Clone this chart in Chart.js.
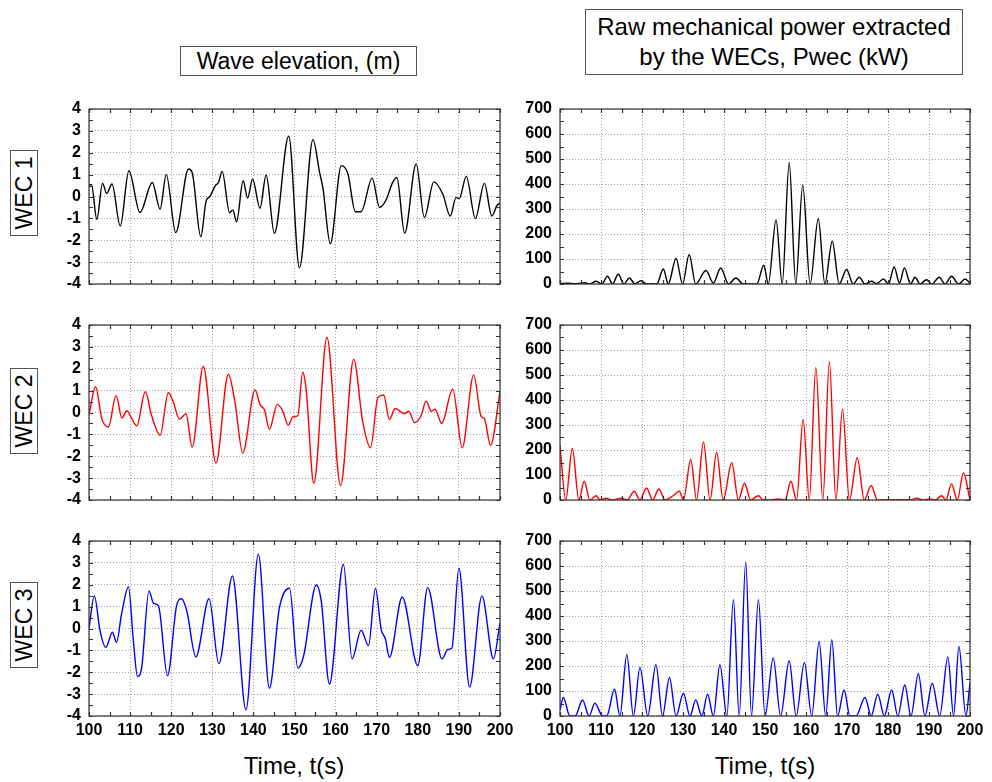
<!DOCTYPE html>
<html>
<head>
<meta charset="utf-8">
<script src="https://cdn.jsdelivr.net/npm/chart.js@4.4.1/dist/chart.umd.min.js"></script>
<style>
  body { margin: 0; background: #fff; width: 992px; height: 782px; position: relative; overflow: hidden;
         font-family: "Liberation Sans", Arial, sans-serif; }
  canvas { position: absolute; }
  .box { position: absolute; border: 1px solid #555; background: #fff; color: #000; text-align: center;
         box-sizing: border-box; }
  .label { position: absolute; color: #000; font-size: 24px; width: 200px; text-align: center; }
  .side { position: absolute; width: 86px; height: 28px; line-height: 27px; font-size: 23px;
          transform: rotate(-90deg); transform-origin: center center; }
</style>
</head>
<body>
<div class="box" style="left:180px;top:46px;width:237px;height:30px;line-height:28px;font-size:23px;">Wave elevation, (m)</div>
<div class="box" style="left:585px;top:9px;width:378px;height:66px;font-size:24px;line-height:30px;padding-top:2px;">Raw mechanical power extracted<br>by the WECs, Pwec (kW)</div>

<div class="box side" style="left:-19px;top:179px;">WEC 1</div>
<div class="box side" style="left:-19px;top:397px;">WEC 2</div>
<div class="box side" style="left:-19px;top:611px;">WEC 3</div>

<div class="label" style="left:194px;top:752px;">Time, t(s)</div>
<div class="label" style="left:665px;top:752px;">Time, t(s)</div>

<canvas id="wave1" width="480" height="205" style="left:40px;top:95px;"></canvas>
<canvas id="wave2" width="480" height="205" style="left:40px;top:311px;"></canvas>
<canvas id="wave3" width="480" height="233" style="left:40px;top:527px;"></canvas>
<canvas id="power1" width="480" height="205" style="left:510px;top:95px;"></canvas>
<canvas id="power2" width="480" height="205" style="left:510px;top:311px;"></canvas>
<canvas id="power3" width="480" height="233" style="left:510px;top:527px;"></canvas>

<script>
// Wave elevation (m)
const wave1Time = [100, 100.6, 101.9, 103.3, 104.3, 105.6, 107.6, 109.7, 112.4, 115.4, 117.3, 118.8, 121.1, 124.2, 125.1, 127.2, 128.5, 129.4, 130.7, 131.5, 132.4, 134.2, 135.0, 135.9, 137.5, 138.6, 139.8, 141.6, 143.1, 145.1, 148.6, 151.2, 154.5, 156.1, 156.9, 158.7, 161.4, 163.0, 164.8, 166.2, 168.9, 170.7, 172.3, 173.8, 174.9, 176.8, 179.6, 181.6, 183.9, 186.1, 187.9, 189.3, 190.1, 191.8, 194.0, 196.2, 198.0, 199.3, 200];
const wave1 = [0.52, 0.55, -1.04, 0.6, 0.14, 0.57, -1.35, 1.18, -0.73, 0.64, -0.58, 1.0, -1.65, 1.26, 1.1, -1.84, -0.2, 0, 0.49, 0.64, 1.15, -0.74, -0.61, -1.16, 0.72, -0.08, 0.8, -0.54, 0.98, -1.68, 2.76, -3.26, 2.6, 1.1, 0.41, -2.16, 1.41, 1.03, -0.7, -0.7, 0.84, -0.5, -0.15, 0.61, 0.87, -1.68, 1.49, -0.96, 0.67, 0.1, -0.89, -0.05, -0.09, 0.92, -1.01, 0.6, -0.89, -0.4, -0.3];

const wave2Time = [100, 101.6, 103.1, 104.7, 106.6, 108.0, 109.2, 110.4, 111.6, 113.7, 115.2, 117.3, 119.3, 120.5, 122.0, 123.6, 125.1, 127.8, 130.9, 133.9, 135.5, 137.4, 140.4, 141.6, 142.7, 143.9, 145.8, 147.1, 148.5, 149.6, 150.8, 152.0, 152.8, 154.7, 157.9, 161.2, 164.4, 166.6, 168.5, 170.3, 171.7, 173.1, 174.5, 176.8, 177.8, 179.2, 180.8, 182.0, 183.3, 184.2, 185.8, 188.5, 190.8, 193.6, 195.4, 196.2, 197.7, 200];
const wave2 = [-0.1, 1.18, -0.28, -0.66, 0.77, -0.25, 0.08, -0.28, -0.61, 0.95, -0.12, -1.04, 0.9, 0.49, -0.31, -0.06, -1.58, 2.1, -2.31, 1.75, 0.49, -1.85, 1.03, 0.37, 0.11, -0.77, 0.37, 0.08, -0.58, -0.2, -0.15, 1.84, 1.1, -3.23, 3.43, -3.34, 2.43, -0.43, -1.61, 0.69, 0.8, -0.32, 0.18, -0.05, 0.06, -0.46, -0.15, 0.52, 0.06, 0.15, -0.5, 1.07, -1.61, 1.72, -0.17, -0.28, -1.5, 0.95];

const wave3Time = [100, 101.3, 102.7, 104.1, 105.7, 106.7, 107.9, 109.6, 110.8, 111.8, 112.8, 114.6, 115.7, 116.9, 119.1, 121.3, 122.5, 123.8, 126.0, 129.2, 131.6, 134.9, 138.2, 141.2, 143.9, 146.3, 148.8, 150.8, 152.2, 155.3, 156.5, 158.5, 161.9, 164.0, 166.2, 168.0, 169.7, 171.1, 172.1, 173.1, 176.2, 180.0, 182.4, 185.9, 187.3, 188.3, 190.0, 192.6, 195.6, 198.4, 200];
const wave3 = [0, 1.49, -0.12, -0.86, -0.17, -0.63, 0.64, 1.9, -0.58, -2.19, -1.81, 1.72, 1.15, 1.03, -2.16, 1.03, 1.36, 0.8, -1.3, 1.36, -1.61, 2.4, -3.72, 3.4, -2.73, 0.92, 1.84, -1.81, -1.27, 1.99, 1.26, -2.54, 2.94, -1.39, -0.08, -0.78, 1.84, -0.05, -0.47, -1.32, 1.44, -1.7, 1.87, -1.39, -0.96, -0.89, 2.76, -2.68, 1.49, -1.39, 0.26];

// Raw mechanical power (kW)
const power1Time = [100, 102, 103.5, 104.5, 106.1, 107.2, 108.8, 110.2, 111.6, 112.8, 114.2, 115.6, 116.9, 118.3, 119.7, 121.1, 122.8, 123.6, 125.2, 126.4, 128.3, 129.9, 131.5, 133.1, 135.6, 137.4, 139.2, 141.1, 142.9, 144.7, 148.0, 149.7, 150.8, 152.7, 154.2, 155.9, 157.5, 159.2, 161.0, 163.0, 164.6, 166.4, 168.1, 169.9, 171.5, 173.0, 174.4, 176.0, 177.2, 178.9, 180.1, 181.5, 182.8, 184.0, 185.5, 186.6, 187.8, 189.4, 190.7, 192.5, 193.9, 195.5, 197.2, 198.8, 200];
const power1 = [2, 3, 1, 2, 5, 0, 11, 0, 31, 0, 39, 0, 24, 0, 13, 0, 1, 0, 60, 0, 102, 0, 118, 0, 54, 4, 64, 0, 24, 0, 0, 75, 0, 256, 0, 486, 0, 396, 0, 262, 0, 171, 0, 58, 0, 27, 0, 11, 1, 20, 0, 68, 4, 64, 0, 27, 0, 17, 0, 27, 0, 31, 0, 20, 3];

const power2Time = [100, 101.4, 103.0, 104.6, 105.9, 107.3, 108.8, 109.8, 111.2, 112.6, 115.0, 116.4, 118.1, 119.5, 121.1, 122.6, 124.1, 125.6, 127.6, 129.1, 130.1, 131.9, 133.3, 135.0, 136.6, 138.2, 139.8, 141.9, 143.5, 145.0, 146.5, 148.4, 149.6, 151.5, 153.3, 154.9, 156.3, 157.7, 159.3, 160.8, 162.4, 164.1, 165.7, 167.3, 168.9, 170.6, 172.5, 174.2, 175.9, 177.4, 183.7, 185.5, 187.0, 188.6, 190.2, 191.5, 193.1, 194.1, 195.5, 196.9, 198.4, 200];
const power2 = [218, 0, 207, 0, 75, 0, 17, 0, 7, 0, 7, 0, 35, 0, 48, 0, 44, 0, 17, 35, 0, 162, 0, 232, 0, 191, 0, 149, 0, 67, 0, 17, 0, 0, 4, 0, 75, 0, 323, 0, 530, 0, 553, 0, 363, 0, 169, 0, 58, 0, 1, 0, 7, 0, 4, 0, 17, 0, 64, 0, 108, 0];

const power3Time = [100, 100.8, 102.4, 103.7, 105.5, 107.1, 108.5, 110.4, 111.4, 113.3, 114.6, 116.3, 117.9, 119.5, 121.4, 123.4, 125.0, 126.7, 128.3, 130.1, 131.7, 133.1, 134.6, 136.0, 137.4, 139.0, 140.7, 142.3, 143.7, 145.3, 146.7, 148.4, 150.0, 152.0, 153.8, 155.9, 157.6, 159.6, 161.4, 163.2, 164.8, 166.3, 167.7, 169.3, 170.7, 172.2, 174.4, 175.9, 177.5, 179.1, 180.9, 182.4, 184.1, 185.6, 187.4, 189.0, 190.8, 192.6, 194.6, 196.0, 197.3, 199.0, 200];
const power3 = [24, 74, 0, 0, 64, 0, 51, 0, 0, 108, 0, 245, 0, 194, 0, 205, 0, 154, 0, 91, 0, 64, 0, 87, 0, 205, 0, 466, 0, 616, 0, 466, 0, 232, 0, 221, 0, 214, 0, 298, 0, 305, 0, 104, 0, 0, 74, 0, 87, 0, 104, 0, 124, 0, 169, 0, 131, 0, 236, 0, 278, 0, 134];

// Box round the plot with small inward ticks on all four sides
const frameTicks = {
  id: 'frameTicks',
  afterDraw(chart, args, opts) {
    const { ctx, chartArea: a, scales } = chart;
    const x = scales.x, y = scales.y;
    ctx.save();
    ctx.strokeStyle = '#333';
    ctx.lineWidth = 1.2;
    ctx.beginPath();
    for (let v = x.min; v <= x.max + 1e-6; v += opts.xStep) {
      const px = Math.round(x.getPixelForValue(v)) + 0.5;
      ctx.moveTo(px, a.top); ctx.lineTo(px, a.top + 4);
      ctx.moveTo(px, a.bottom); ctx.lineTo(px, a.bottom - 4);
    }
    for (let v = y.min; v <= y.max + 1e-6; v += opts.yStep) {
      const py = Math.round(y.getPixelForValue(v)) + 0.5;
      ctx.moveTo(a.left, py); ctx.lineTo(a.left + 4, py);
      ctx.moveTo(a.right, py); ctx.lineTo(a.right - 4, py);
    }
    ctx.stroke();
    ctx.strokeRect(a.left, a.top, a.right - a.left, a.bottom - a.top);
    ctx.restore();
  }
};

const tickFont = { family: '"Liberation Sans", Arial, sans-serif', size: 16, weight: 'bold' };

function makePanel(id, times, values, color, yMin, yMax, yStep, showX) {
  const ctx = document.getElementById(id);
  if (!ctx) return;
  const yWidth = yMax > 10 ? 50 : 49;

  return new Chart(ctx, {
    type: 'line',
    data: {
      datasets: [{
        data: times.map((t, i) => ({ x: t, y: values[i] })),
        borderColor: color,
        borderWidth: 1.4,
        pointRadius: 0,
        fill: false,
        cubicInterpolationMode: 'monotone'
      }]
    },
    options: {
      responsive: false,
      animation: false,
      layout: { padding: { top: 14, right: 20, left: 0, bottom: 0 } },
      plugins: {
        legend: { display: false },
        tooltip: { enabled: false },
        frameTicks: { xStep: 5, yStep: yStep / 2 }
      },
      scales: {
        x: {
          type: 'linear',
          min: 100,
          max: 200,
          ticks: { stepSize: 10, autoSkip: false, display: showX, color: '#000', padding: 5, maxRotation: 0, font: tickFont },
          grid: { color: '#a0a0a0', drawTicks: false, lineWidth: 1 },
          border: { display: false, dash: [1, 2] },
          afterFit: scale => {
            scale.height = showX ? 44 : 16;
            scale.paddingLeft = 0;
            scale.paddingRight = 0;
          }
        },
        y: {
          min: yMin,
          max: yMax,
          ticks: { stepSize: yStep, autoSkip: false, color: '#000', padding: 8, font: tickFont },
          grid: { color: '#a0a0a0', drawTicks: false, lineWidth: 1 },
          border: { display: false, dash: [1, 2] },
          afterFit: scale => {
            scale.width = yWidth;
            scale.paddingTop = 0;
            scale.paddingBottom = 0;
          }
        }
      }
    },
    plugins: [frameTicks]
  });
}

makePanel('wave1', wave1Time, wave1, '#000000', -4, 4, 1, false);
makePanel('wave2', wave2Time, wave2, '#ff0000', -4, 4, 1, false);
makePanel('wave3', wave3Time, wave3, '#0000ff', -4, 4, 1, true);
makePanel('power1', power1Time, power1, '#000000', 0, 700, 100, false);
makePanel('power2', power2Time, power2, '#ff0000', 0, 700, 100, false);
makePanel('power3', power3Time, power3, '#0000ff', 0, 700, 100, true);
</script>
</body>
</html>
